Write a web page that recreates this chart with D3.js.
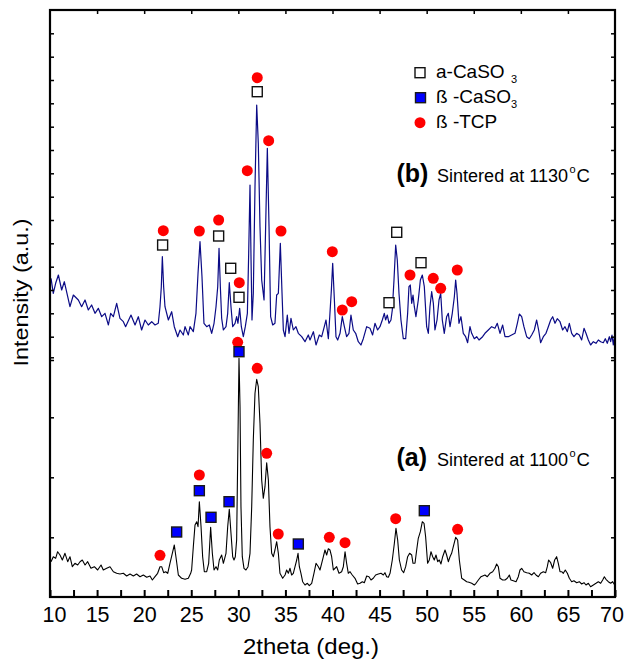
<!DOCTYPE html>
<html><head><meta charset="utf-8">
<script src="https://cdn.jsdelivr.net/npm/d3@7"></script>
<style>body{margin:0;background:#fff}svg{display:block;font-family:"Liberation Sans",Arial,sans-serif}</style>
</head><body>
<svg id="c" width="625" height="661"></svg>
<script>
// ---- data (2theta in degrees, intensity in arbitrary units; trace (b) drawn with its vertical offset) ----
const traceB = [[10.11,318.7],[10.35,303.7],[10.6,313.7],[10.89,322],[11.24,307],[11.52,315.3],[11.88,300.3],[12.12,290.3],[12.48,302],[13.01,297],[13.36,290.3],[13.72,297],[14.07,287],[14.42,292],[14.78,283.7],[15.13,288.7],[15.49,280.3],[15.84,283.7],[16.2,272],[16.44,283.7],[16.73,280.3],[17.08,293.7],[17.43,278.7],[17.79,275.3],[18.03,270.3],[18.6,282],[19.03,272],[19.38,280.3],[19.73,267],[20.09,277],[20.44,272],[20.8,275.3],[21.15,272],[21.5,273.7],[21.68,290.3],[21.82,310],[21.93,340.3],[22.07,310],[22.21,290.3],[22.57,277],[22.92,285.3],[23.2,270.3],[23.56,260.3],[23.81,267],[24.16,262],[24.34,270.3],[24.69,262],
[24.87,270.3],[25.22,265.3],[25.5,283.7],[25.72,323.7],[25.93,355.3],[26.14,320.3],[26.35,273.7],[26.64,270.3],[26.92,272],[27.17,263.7],[27.42,273.7],[27.63,290.3],[27.81,310.3],[27.95,348.7],[28.09,310.3],[28.23,278.7],[28.41,267],[28.69,270.3],[28.87,283.7],[29.04,314.3],[29.22,290.3],[29.4,270.3],[29.65,273.7],[29.82,280.3],[29.96,273.7],[30.14,288.7],[30.32,270.3],[30.53,260.3],[30.74,270.3],[30.96,283.7],[31.1,343.7],[31.24,412],[31.35,337],[31.45,277],[31.59,303.7],[31.77,410.3],[31.95,492],[32.12,453.7],[32.3,370.3],[32.48,317],[32.73,297],[32.9,370.3],[33.08,448.7],[33.26,370.3],[33.43,280.3],[33.65,272],[33.89,273.7],[34.07,302],[34.25,303.7],[34.46,353.7],[34.64,303.7],[34.78,267],[34.96,260.3],[35.2,282],[35.38,263.7],[35.59,278.7],[35.84,267],[36.12,270.3],[36.37,263.7],[36.73,260.3],[37.08,255.3],[37.43,262],[37.61,257],[37.97,265.3],[38.25,252],[38.6,262],[38.85,260.3],[39.13,270.3],[39.31,277],[39.56,258.3],[39.73,283.7],[39.88,307],[40.02,333.7],[40.2,297],[40.37,260.3],
[40.55,257],[40.8,263.7],[41.04,280.3],[41.26,270.3],[41.5,260.3],[41.75,263.7],[41.96,282],[42.21,267],[42.46,263.7],[42.74,255.3],[43.02,252],[43.27,258.3],[43.63,270.3],[43.98,268.7],[44.26,262],[44.51,273.7],[44.79,267],[45.04,270.3],[45.29,277],[45.5,283.7],[45.64,277],[45.82,282],[46.0,273.7],[46.21,277],[46.35,287],[46.53,317],[46.71,352],[46.88,337],[47.06,303.7],[47.27,277],[47.52,258.3],[47.77,258.3],[47.98,283.7],[48.12,310.3],[48.26,312],[48.41,293.7],[48.55,302],[48.69,290.3],[48.86,280.3],[49.11,297],[49.33,317],[49.54,322],[49.75,310.3],[50.0,270.3],[50.18,263.7],[50.35,290.3],[50.53,305.3],[50.71,293.7],[50.88,267],[51.1,277],[51.31,297],[51.49,303.7],[51.66,277],[51.87,263.7],[52.12,280.3],[52.3,283.7],[52.48,270.3],[52.72,283.7],[52.94,300.3],[53.08,317],[53.22,303.7],[53.43,273.7],[53.64,280.3],[53.89,263.7],[54.14,260.3],[54.35,254.3],[54.6,270.3],[54.78,263.7],[55.06,258.3],[55.31,260.3],[55.56,257],
[55.94,260.3],[56.19,263.7],[56.55,267],[56.9,270.3],[57.25,268.7],[57.5,273.7],[57.79,263.7],[58.07,272],[58.32,260.3],[58.67,260.3],[59.02,262],[59.38,263.7],[59.63,273.7],[59.84,283],[60.09,280.3],[60.33,270.3],[60.62,260.3],[60.9,258.3],[61.15,262],[61.43,267],[61.68,277],[61.89,267],[62.1,254.3],[62.39,260.3],[62.67,263.7],[62.92,270.3],[63.17,277],[63.38,280.3],[63.63,273.7],[63.87,278.3],[64.16,275.3],[64.44,267],[64.69,270.3],[64.94,265.3],[65.15,273.7],[65.4,263.7],[65.64,260.3],[65.93,263.7],[66.21,262],[66.46,257],[66.71,268.7],[66.92,263.7],[67.17,257],[67.41,252],[67.7,255.3],[67.98,253.7],[68.23,257],[68.48,255.3],[68.76,254.3],[68.97,258.3],[69.18,253.7],[69.4,260.3],[69.54,255.3],[69.68,262],[69.82,252],[69.93,260.3],[70.0,250.3]];

const traceA = [[10.11,35.3],[10.35,40.3],[10.6,38.7],[10.81,45.3],[11.06,42],[11.31,37],[11.59,43.7],[11.88,35.3],[12.12,40.3],[12.37,30.3],[12.65,33.7],[12.94,32],[13.19,35.3],[13.43,37],[13.72,32],[14.0,35.3],[14.35,28.7],[14.71,30.3],[15.06,27],[15.42,32],[15.66,27],[16.02,28.7],[16.37,30.3],[16.73,25.3],[17.08,23.7],[17.43,23],[17.79,23.7],[18.14,21],[18.5,23],[18.85,21],[19.2,23],[19.56,20.3],[19.91,22],[20.27,19.7],[20.62,21],[20.87,17],[21.15,20.3],[21.43,23.7],[21.68,30.3],[21.86,30.3],[22.07,24.3],[22.28,25.3],[22.5,23.7],[22.74,33.7],[22.99,43.7],[23.2,52],[23.42,37],[23.63,22],[23.98,18.7],[24.34,17.7],[24.69,18.7],[24.94,23.7],
[25.04,27],[25.22,50.3],[25.4,72],[25.58,75.3],[25.72,70.3],[25.86,95.3],[26.04,70.3],[26.21,40.3],[26.39,25.3],[26.64,25.3],[26.85,33.7],[27.06,69.7],[27.24,43.7],[27.42,27],[27.63,30.3],[27.81,27],[27.98,37],[28.23,42],[28.41,33.7],[28.69,43.7],[28.87,70.3],[29.04,87.7],[29.22,63.7],[29.4,40.3],[29.54,37],[29.68,40.3],[29.82,57],[29.96,157],[30.07,238.7],[30.18,190.3],[30.28,90.3],[30.42,40.3],[30.6,28.7],[30.81,27],[31.03,30.3],[31.24,43.7],[31.42,90.3],[31.59,157],[31.77,203.7],[31.95,217.7],[32.12,210.3],[32.3,173.7],[32.48,117],[32.65,98.7],[32.83,110.3],[33.01,134.3],[33.19,117],[33.36,70.3],[33.54,43.7],[33.72,40.3],[33.89,47],[34.07,55.3],[34.25,43.7],[34.42,23.7],[34.71,18.7],[34.96,22],[35.13,27],[35.31,23.7],[35.49,28.7],[35.66,22],[35.84,23.7],[36.02,30.3],[36.2,37],[36.34,43.7],[36.48,30.3],[36.65,23.7],[36.83,15.3],[37.08,12],[37.33,13.7],[37.54,11.3],[37.79,13.7],[38.03,23.7],[38.25,33.7],[38.5,30.3],[38.67,27],[38.85,33.7],[39.03,40.3],[39.2,47],[39.38,42],[39.56,48.3],[39.73,47],[39.91,40.3],[40.09,27],
[40.44,30.3],[40.69,23.7],[40.97,25.3],[41.15,30.3],[41.33,45.3],[41.5,33.7],[41.68,23.7],[41.86,25.3],[42.1,22],[42.39,18.7],[42.67,13],[42.92,13.7],[43.17,15.3],[43.38,14.3],[43.63,21],[43.87,20.3],[44.09,17],[44.33,18.7],[44.58,22],[44.87,23],[45.15,23.7],[45.4,22],[45.57,24.3],[45.75,20.3],[45.93,19.7],[46.11,23.7],[46.35,37],[46.57,53.7],[46.74,68.7],[46.92,57],[47.1,37],[47.34,27],[47.56,24.3],[47.77,30.3],[47.98,40.3],[48.19,43.7],[48.41,42],[48.55,33.7],[48.76,33.7],[48.94,47],[49.11,58.7],[49.33,65.3],[49.54,75.3],[49.72,73.7],[49.89,60.3],[50.1,33.7],[50.28,37],[50.46,45.3],[50.64,40.3],[50.81,37],[50.99,42],[51.17,35.3],[51.34,37],[51.52,33],[51.7,40.3],[51.95,47],[52.12,42],[52.3,35.3],[52.48,40.3],[52.65,43.7],[52.83,50.3],[53.08,59.7],[53.29,57],[53.47,37],[53.72,18.7],[54.0,17],[54.25,15.3],[54.49,14.7],[54.78,13.7],[55.06,12],[55.24,13.7],[55.49,17],[55.77,20.3],
[56.19,22],[56.44,20.3],[56.72,23.7],[57.01,25.3],[57.25,28.7],[57.43,33],[57.61,30.3],[57.79,18.7],[58.07,17],[58.32,17],[58.56,18.7],[58.78,22],[58.95,17],[59.2,16.3],[59.49,15.3],[59.73,20.3],[59.91,27],[60.09,28.7],[60.33,25.3],[60.62,24.3],[60.9,23.7],[61.15,22],[61.4,24.3],[61.61,22],[61.86,20.3],[62.1,23.7],[62.39,25.3],[62.64,24.3],[62.81,30.3],[62.95,37],[63.17,34.3],[63.38,28.7],[63.59,37],[63.8,40.3],[63.98,33.7],[64.16,25.3],[64.34,25.3],[64.51,23.7],[64.72,27],[64.94,23.7],[65.15,18.7],[65.4,15.3],[65.64,16.3],[65.93,14.3],[66.21,15.3],[66.46,13],[66.71,14.3],[66.92,12],[67.17,13.7],[67.41,10.3],[67.7,12],[67.98,13.7],[68.23,15.3],[68.48,13.7],[68.69,17],[68.87,20.3],[69.04,17.7],[69.29,15.3],[69.54,13.7],[69.75,15.3],[69.97,12]];

// phase markers [2theta, intensity]
const alphaCaSO3_b = [[21.96,352],[27.91,361],[29.19,328.7],[30.07,299.7],[32.01,505.3],[46.0,294.3],[46.82,364.7],[49.4,334.3]];
const betaTCP_b = [[22.03,366.3],[25.86,366],[27.91,377],[30.1,314.3],[30.95,426.3],[32.01,519.3],[33.22,456.3],[34.53,366],[39.98,345.3],[41.04,287],[42.04,295.3],[48.23,322],[50.7,318.7],[51.49,308.7],[53.25,327]];
const betaCaSO3_a = [[23.45,65],[25.86,106.3],[27.1,79.7],[29.01,95.3],[30.07,245.3],[36.37,53],[49.75,86.3]];
const betaTCP_a = [[21.68,41.7],[25.86,122],[29.93,254.7],[32.01,228.7],[33.01,143.7],[34.24,63],[39.66,59.7],[41.33,54.3],[46.71,78.3],[53.29,67.7]];

const xTickValues = [10,12.5,15,17.5,20,22.5,25,27.5,30,32.5,35,37.5,40,42.5,45,47.5,50,52.5,55,57.5,60,62.5,65,67.5,70];
const xTopTicks = [15,20,25,30,35,40,45,50,55,60,65];
const yTicksUpper = [237,260.3,283.7,307,330.3,353.7,377,400.3,423.7,447,470.3,493.7,517,540.3,563.7];
const yTicksLower = [59.7,119.7,179.7,239.7];
const legendItems = [{label:"a-CaSO", sub:"3", type:"open"},{label:"ß -CaSO", sub:"3", type:"blue"},{label:"ß -TCP", sub:"", type:"circle"}];

// ---- drawing ----
const svg = d3.select("#c");
const L=50, R=615, T=10, B=597;
const x = d3.scaleLinear().domain([10,70]).range([L,R]);
const y = d3.scaleLinear().domain([0,587]).range([B,T]);

const line = d3.line().x(d=>x(d[0])).y(d=>y(d[1]));
svg.append("path").datum(traceA).attr("d",line).attr("fill","none").attr("stroke","#000").attr("stroke-width",1.1).attr("stroke-linejoin","round");
svg.append("path").datum(traceB).attr("d",line).attr("fill","none").attr("stroke","#0b0b86").attr("stroke-width",1.2).attr("stroke-linejoin","round");

const S=10, CR=5.5;
function circles(data){ svg.append("g").selectAll("circle").data(data).join("circle").attr("cx",d=>x(d[0])).attr("cy",d=>y(d[1])).attr("r",CR).attr("fill","#ff0000"); }
function squares(data, fill, stroke){ svg.append("g").selectAll("rect").data(data).join("rect").attr("x",d=>x(d[0])-S/2).attr("y",d=>y(d[1])-S/2).attr("width",S).attr("height",S).attr("fill",fill).attr("stroke",stroke).attr("stroke-width",1.4); }
circles(betaTCP_b); circles(betaTCP_a);
squares(alphaCaSO3_b, "#fff", "#111");
squares(betaCaSO3_a, "#0000ff", "#1a1a1a");

// axes
const ax = svg.append("g").attr("transform",`translate(0,${B})`)
  .call(d3.axisBottom(x).tickValues(xTickValues).tickSize(-7).tickFormat(d=> d%5===0 ? d : ""));
ax.select(".domain").remove();
ax.selectAll("line").attr("stroke","#000").attr("stroke-width",2);
ax.selectAll("text").attr("y",24.7).attr("dy",0).attr("font-size",21.5).attr("fill","#000")
  .attr("font-family","Liberation Sans, Arial, sans-serif")
  .attr("dx", d=> d===10 ? 4 : (d===70 ? -3.5 : 0));
const axT = svg.append("g").attr("transform",`translate(0,${T})`).call(d3.axisTop(x).tickValues(xTopTicks).tickSize(-4).tickFormat(""));
axT.select(".domain").remove(); axT.selectAll("line").attr("stroke","#000").attr("stroke-width",1.5);
const yt = yTicksUpper.concat(yTicksLower);
const axL = svg.append("g").attr("transform",`translate(${L},0)`).call(d3.axisLeft(y).tickValues(yt).tickSize(-4).tickFormat(""));
axL.select(".domain").remove(); axL.selectAll("line").attr("stroke","#000").attr("stroke-width",1.5);
const axR = svg.append("g").attr("transform",`translate(${R},0)`).call(d3.axisRight(y).tickValues(yt).tickSize(-4).tickFormat(""));
axR.select(".domain").remove(); axR.selectAll("line").attr("stroke","#000").attr("stroke-width",1.5);
svg.append("rect").attr("x",L).attr("y",T).attr("width",R-L).attr("height",B-T).attr("fill","none").attr("stroke","#000").attr("stroke-width",2.2);

// axis titles
svg.append("text").attr("x",311).attr("y",654).attr("text-anchor","middle").attr("font-size",22)
  .attr("textLength",136).attr("lengthAdjust","spacingAndGlyphs").text("2theta (deg.)");
svg.append("text").attr("transform","translate(28,292.5) rotate(-90)").attr("text-anchor","middle").attr("font-size",21)
  .attr("textLength",148).attr("lengthAdjust","spacingAndGlyphs").text("Intensity (a.u.)");

// legend
const lg = svg.append("g");
legendItems.forEach((it,i)=>{
  const cy = 72.7 + i*25;
  if(it.type==="open") lg.append("rect").attr("x",420-S/2).attr("y",cy-S/2).attr("width",S).attr("height",S).attr("fill","#fff").attr("stroke","#111").attr("stroke-width",1.4);
  else if(it.type==="blue") lg.append("rect").attr("x",420.5-S/2).attr("y",cy-S/2).attr("width",S).attr("height",S).attr("fill","#0000ff").attr("stroke","#1a1a1a").attr("stroke-width",1.4);
  else lg.append("circle").attr("cx",420).attr("cy",cy).attr("r",CR).attr("fill","#ff0000");
  lg.append("text").attr("x",436).attr("y",cy+5.5).attr("font-size",19).text(it.label);
  if(it.sub) lg.append("text").attr("x",511).attr("y",cy+10.5).attr("font-size",11).text(it.sub);
});

// annotations
function note(tag, txt, base){
  svg.append("text").attr("x",396.5).attr("y",base).attr("font-size",25).attr("font-weight","bold").text(tag);
  svg.append("text").attr("x",437).attr("y",base).attr("font-size",18)
    .attr("textLength",131).attr("lengthAdjust","spacingAndGlyphs").text(txt);
  svg.append("text").attr("x",569.5).attr("y",base-8.5).attr("font-size",11).text("o");
  svg.append("text").attr("x",576.5).attr("y",base).attr("font-size",18.5).text("C");
}
note("(b)", "Sintered at 1130", 181.7);
note("(a)", "Sintered at 1100", 465.7);
</script>
</body></html>
